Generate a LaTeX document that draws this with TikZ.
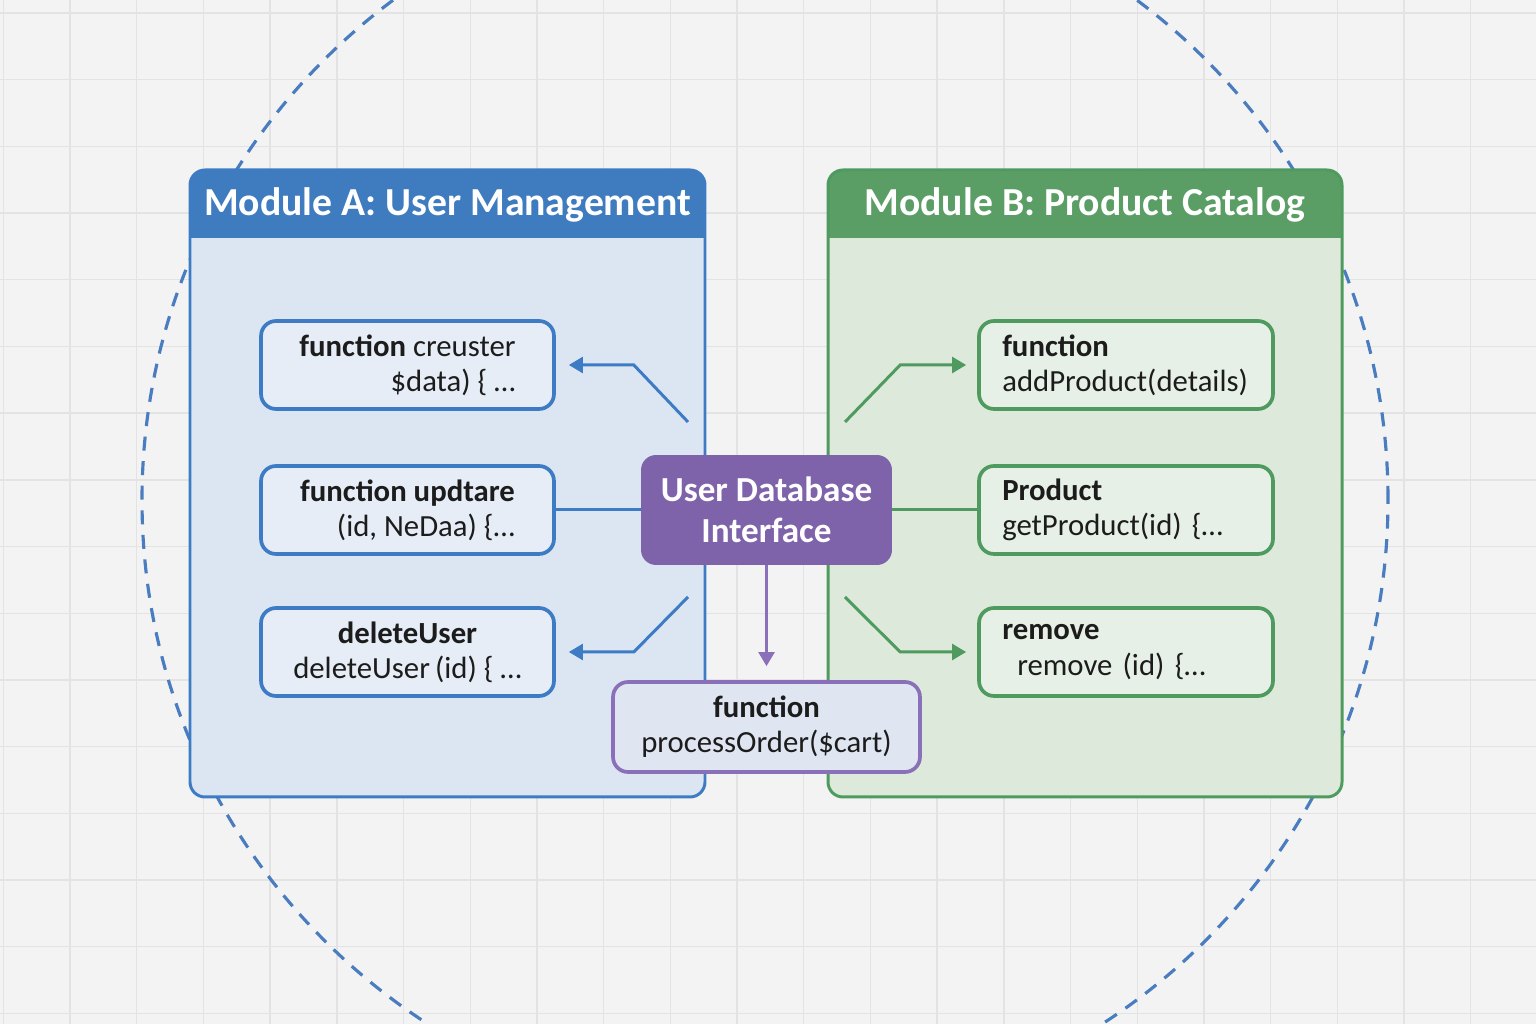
\documentclass[tikz,border=0pt]{standalone}
\usepackage{fontspec}
\setmainfont{Carlito}
\usepackage{tikz}
\usetikzlibrary{arrows.meta,calc,positioning}

\definecolor{paper}{HTML}{F3F3F3}
\definecolor{gridline}{HTML}{E3E3E3}
\definecolor{ringblue}{HTML}{4A7DC0}
\definecolor{modAhead}{HTML}{3F7CBF}
\definecolor{modAbody}{HTML}{DCE5F2}
\definecolor{modAline}{HTML}{3D7CC4}
\definecolor{modBhead}{HTML}{5A9E66}
\definecolor{modBbody}{HTML}{DDEADB}
\definecolor{modBline}{HTML}{4F9A5E}
\definecolor{ifpurple}{HTML}{7E63AA}
\definecolor{procline}{HTML}{8A70B8}
\definecolor{procfill}{HTML}{DFE5F1}
\definecolor{inktext}{HTML}{1C1C1C}

\tikzset{
  title/.style={text=white, font=\fontsize{22.6}{26}\selectfont\bfseries},
  fnA/.style={draw=modAline, fill=modAbody!70!white, line width=2.1pt, rounded corners=0.3cm,
    minimum width=5.86cm, minimum height=1.76cm, text=inktext,
    font=\fontsize{17.5}{20}\selectfont},
  fnB/.style={draw=modBline, fill=modBbody!70!white, line width=2.1pt, rounded corners=0.3cm,
    minimum width=5.88cm, minimum height=1.76cm, text=inktext, text width=4.95cm, align=left,
    font=\fontsize{17.5}{20}\selectfont},
  iface/.style={fill=ifpurple, rounded corners=0.3cm, minimum width=5.02cm, minimum height=2.2cm,
    text=white, align=center, font=\fontsize{20}{23}\selectfont\bfseries},
  procbox/.style={draw=procline, fill=procfill, line width=2.1pt, rounded corners=0.3cm,
    minimum width=6.14cm, minimum height=1.8cm, text=inktext, align=center,
    font=\fontsize{17.5}{20}\selectfont},
  linkA/.style={draw=modAline, line width=1.7pt, -{Triangle[length=8pt,width=9pt]}},
  linkB/.style={draw=modBline, line width=1.7pt, -{Triangle[length=8pt,width=9pt]}},
  linkP/.style={draw=procline, line width=1.7pt, -{Triangle[length=8pt,width=9pt]}},
}

\begin{document}
\begin{tikzpicture}[x=0.02cm,y=0.02cm]
\useasboundingbox (0,0) rectangle (1536,1024);
\begin{scope}
\clip (0,0) rectangle (1536,1024);
\fill[paper] (0,0) rectangle (1536,1024);
\foreach \i in {0,...,22}
{
\draw[gridline, line width=0.8pt] (3.3+66.7*\i,0) -- (3.3+66.7*\i,1024);
}
\foreach \j in {0,...,15}
{
\draw[gridline, line width=0.8pt] (0,1011-66.7*\j) -- (1536,1011-66.7*\j);
}
\draw[ringblue, line width=1.8pt, dash pattern=on 8pt off 6pt] (765,524) circle (623);
\end{scope}

% module A
\fill[modAbody, rounded corners=0.3cm] (190,227) rectangle (705,854);
\fill[modAhead] (190,786) {[rounded corners=0.3cm] -- (190,854) -- (705,854)} -- (705,786) -- cycle;
\draw[modAline, line width=1.7pt, rounded corners=0.3cm] (190,227) rectangle (705,854);
\node[title] (titleA) at (447.5,819) {Module A: User Management};

% module B
\fill[modBbody, rounded corners=0.3cm] (828,227) rectangle (1342,854);
\fill[modBhead] (828,786) {[rounded corners=0.3cm] -- (828,854) -- (1342,854)} -- (1342,786) -- cycle;
\draw[modBline, line width=1.7pt, rounded corners=0.3cm] (828,227) rectangle (1342,854);
\node[title] (titleB) at (1085,819) {Module B: Product Catalog};

\node[fnA, align=right] (fa1) at (407.5,659) {\textbf{function} creuster\\\$data) \{ \ldots};
\node[fnA, align=right] (fa2) at (407.5,514) {\textbf{function updtare}\\(id, NeDaa) \{\ldots};
\node[fnA, align=center] (fa3) at (407.5,372) {\textbf{deleteUser}\\deleteUser\,(id) \{ \ldots};

\node[fnB] (fb1) at (1126,659) {\textbf{function}\\addProduct(details)};
\node[fnB] (fb2) at (1126,514) {\textbf{Product}\\getProduct(id) \{\ldots};
\node[fnB] (fb3) at (1126,372) {\textbf{remove}\\\hspace*{0.3cm}remove (id) \{\ldots};

\node[iface] (db) at (766.5,514) {User Database\\Interface};
\node[procbox] (proc) at (766.5,297) {\textbf{function}\\processOrder(\$cart)};

\coordinate (a1s) at (688,602);
\coordinate (a3s) at (688,427);
\coordinate (b1s) at (845,602);
\coordinate (b3s) at (845,427);

\draw[linkA, shorten >=0.26cm] (a1s) -- ($(fa1.east)+(78,0)$) -- (fa1.east);
\draw[linkA, -] (db.west) -- (fa2.east);
\draw[linkA, shorten >=0.26cm] (a3s) -- ($(fa3.east)+(78,0)$) -- (fa3.east);

\draw[linkB, shorten >=0.22cm] (b1s) -- ($(fb1.west)+(-77,0)$) -- (fb1.west);
\draw[linkB, -] (db.east) -- (fb2.west);
\draw[linkB, shorten >=0.22cm] (b3s) -- ($(fb3.west)+(-77,0)$) -- (fb3.west);

\draw[linkP, shorten >=0.28cm] (db.south) -- (proc.north);
\end{tikzpicture}
\end{document}
